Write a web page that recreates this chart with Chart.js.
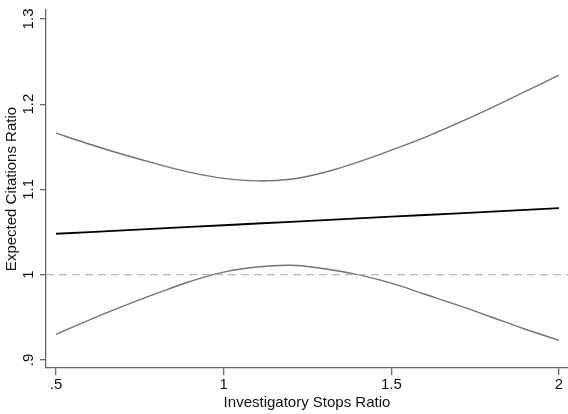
<!DOCTYPE html>
<html>
<head>
<meta charset="utf-8">
<script src="https://cdn.jsdelivr.net/npm/chart.js@4/dist/chart.umd.min.js"></script>
<style>
  html, body { margin: 0; padding: 0; background: #fff; }
  #wrap { width: 568px; height: 414px; position: relative; }
</style>
</head>
<body>
<div id="wrap"><canvas id="c" width="568" height="414"></canvas></div>
<script>
// Data
const xValues   = [0.5, 0.6, 0.7, 0.8, 0.9, 1.0, 1.1, 1.2, 1.3, 1.4, 1.5, 1.6, 1.7, 1.8, 1.9, 2.0];
const predicted = [1.048, 1.050, 1.052, 1.054, 1.056, 1.058, 1.060, 1.062, 1.064, 1.066, 1.068, 1.070, 1.072, 1.074, 1.076, 1.078];
const upperCI   = [1.166, 1.153, 1.141, 1.130, 1.120, 1.113, 1.110, 1.112, 1.120, 1.132, 1.146, 1.161, 1.178, 1.196, 1.215, 1.234];
const lowerCI   = [0.930, 0.947, 0.963, 0.978, 0.992, 1.003, 1.009, 1.011, 1.007, 1.000, 0.990, 0.977, 0.964, 0.950, 0.936, 0.923];
const referenceLevel = 1.0;
const xTicks = [0.5, 1.0, 1.5, 2.0];
const xTickLabels = [".5", "1", "1.5", "2"];
const yTicks = [0.9, 1.0, 1.1, 1.2, 1.3];
const yTickLabels = [".9", "1", "1.1", "1.2", "1.3"];
const xTitle = "Investigatory Stops Ratio";
const yTitle = "Expected Citations Ratio";
const xRange = [0.47, 2.027];
const yRange = [0.8905, 1.3105];

const pts = (ys) => xValues.map((x, i) => ({ x: x, y: ys[i] }));

const axisColor = '#666666';
const textColor = '#111111';
const fontFamily = '"Liberation Sans", Arial, sans-serif';

new Chart(document.getElementById('c'), {
  type: 'line',
  data: {
    datasets: [
      {
        label: 'ref',
        data: [{ x: xRange[0], y: referenceLevel }, { x: xRange[1], y: referenceLevel }],
        borderColor: '#b8b8b8',
        borderWidth: 1.2,
        borderDash: [8, 5],
        pointRadius: 0,
        tension: 0
      },
      {
        label: 'upper',
        data: pts(upperCI),
        borderColor: '#747474',
        borderWidth: 1.4,
        pointRadius: 0,
        tension: 0.4
      },
      {
        label: 'lower',
        data: pts(lowerCI),
        borderColor: '#747474',
        borderWidth: 1.4,
        pointRadius: 0,
        tension: 0.4
      },
      {
        label: 'predicted',
        data: pts(predicted),
        borderColor: '#000000',
        borderWidth: 1.8,
        pointRadius: 0,
        tension: 0
      }
    ]
  },
  options: {
    responsive: false,
    animation: false,
    devicePixelRatio: 1,
    layout: { padding: { left: 0, right: 0, top: 7, bottom: 0 } },
    plugins: { legend: { display: false }, tooltip: { enabled: false } },
    scales: {
      x: {
        type: 'linear',
        min: xRange[0],
        max: xRange[1],
        afterBuildTicks: (s) => { s.ticks = xTicks.map(v => ({ value: v })); },
        afterFit: (s) => { s.height = 46; },
        border: { display: true, color: axisColor, width: 1.3 },
        grid: { display: true, drawOnChartArea: false, drawTicks: true, tickLength: 7, color: axisColor, lineWidth: 1.3 },
        ticks: {
          autoSkip: false,
          maxRotation: 0,
          minRotation: 0,
          padding: 1,
          color: textColor,
          font: { family: fontFamily, size: 15 },
          callback: (v) => { const i = xTicks.indexOf(v); return i >= 0 ? xTickLabels[i] : ''; }
        },
        title: {
          display: true,
          text: xTitle,
          color: textColor,
          font: { family: fontFamily, size: 15 },
          padding: { top: 0, bottom: 2 }
        }
      },
      y: {
        type: 'linear',
        min: yRange[0],
        max: yRange[1],
        afterBuildTicks: (s) => { s.ticks = yTicks.map(v => ({ value: v })); },
        afterFit: (s) => { s.width = 46; },
        border: { display: true, color: axisColor, width: 1.3 },
        grid: { display: true, drawOnChartArea: false, drawTicks: true, tickLength: 6, color: axisColor, lineWidth: 1.3 },
        ticks: {
          autoSkip: false,
          minRotation: 90,
          maxRotation: 90,
          crossAlign: 'center',
          padding: 1,
          color: textColor,
          font: { family: fontFamily, size: 15 },
          callback: (v) => { const i = yTicks.indexOf(v); return i >= 0 ? yTickLabels[i] : ''; }
        },
        title: {
          display: true,
          text: yTitle,
          color: textColor,
          font: { family: fontFamily, size: 15 },
          padding: { top: 3, bottom: 0 }
        }
      }
    }
  }
});
</script>
</body>
</html>
